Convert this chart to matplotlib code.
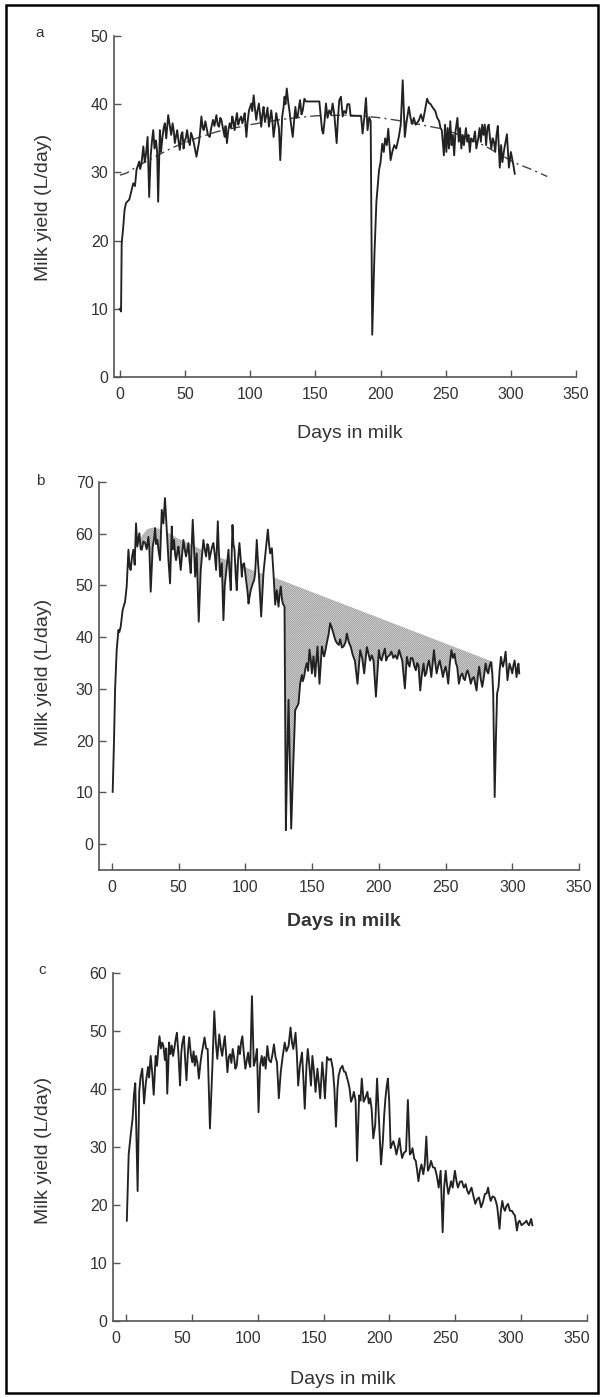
import numpy as np
import matplotlib
matplotlib.use('Agg')
import matplotlib.pyplot as plt
from matplotlib.patches import Rectangle
import matplotlib.transforms as mtrans

plt.rcParams['font.family'] = ['Liberation Sans', 'DejaVu Sans']
plt.rcParams['hatch.linewidth'] = 0.55

# ---------------- data ----------------
x_ticks = [0, 50, 100, 150, 200, 250, 300, 350]
a_yticks = [0, 10, 20, 30, 40, 50]
b_yticks = [0, 10, 20, 30, 40, 50, 60, 70]
c_yticks = [0, 10, 20, 30, 40, 50, 60]

# panel a: daily milk yield (day, L/day)
a_points = [
    (0, 10.0), (0.8, 9.6), (1.3, 19.6), (2.5, 22.0), (3.5, 24.5), (4.6, 25.5), (6, 25.8), (7.1, 26.0),
    (8.9, 27.4), (10.2, 28.4), (11.5, 28.0), (12.7, 30.4), (14.8, 31.6), (15.5, 30.5), (16.5, 31.3),
    (17.9, 33.8), (19, 31.5), (19.9, 32.6), (21.2, 35.2), (22.4, 26.4), (23.5, 32.3), (24.5, 34.5),
    (25.5, 36.2), (26.5, 33.5), (27.6, 34.7), (28.5, 33.0), (29.3, 25.7), (30.6, 36.2), (31.5, 33.0),
    (32.6, 35.2), (33.5, 36.5), (34.4, 37.2), (35.5, 35.0), (37, 38.4), (38.3, 36.7), (39.3, 35.5),
    (40.4, 37.2), (41.3, 36.0), (42.1, 34.3), (43.9, 36.2), (45, 34.5), (45.9, 33.3), (47, 35.5),
    (47.9, 35.9), (48.8, 33.5), (49.7, 34.7), (50.5, 35.0), (51.5, 36.2), (52.5, 34.8), (53.6, 34.0),
    (54.5, 35.8), (55.6, 35.2), (57, 34.0), (58.7, 32.3), (60.7, 34.5), (61.5, 36.0), (62.5, 38.2),
    (63.5, 36.5), (64.3, 36.2), (65.5, 37.5), (66.3, 36.7), (67.5, 35.5), (68.9, 35.2), (70, 36.5),
    (71.4, 37.7), (72.5, 36.8), (74, 38.4), (75, 37.0), (76, 36.7), (77, 38.0), (77.8, 37.7),
    (79, 36.5), (80.3, 35.2), (81, 36.8), (82.1, 34.3), (83, 36.0), (84.2, 37.2), (85.3, 36.5),
    (86.2, 38.2), (87, 37.5), (88, 36.2), (89, 37.8), (89.8, 38.7), (90.8, 37.0), (91.8, 37.7),
    (93, 38.2), (93.9, 37.2), (95, 38.0), (95.7, 38.7), (97, 35.2), (98, 37.5), (99, 39.1),
    (100.8, 40.1), (101.5, 39.0), (102.6, 41.3), (103.5, 39.5), (104.6, 37.7), (105.5, 39.0),
    (106.6, 40.1), (107.5, 38.5), (108.4, 36.7), (109.3, 38.5), (110.2, 39.6), (111.2, 37.5),
    (112.2, 38.2), (113.2, 39.5), (114.3, 36.7), (115.3, 38.0), (116.1, 39.1), (117, 37.5),
    (117.9, 35.2), (119, 37.0), (119.9, 38.7), (121, 37.5), (122, 36.5), (123, 31.8), (124.5, 38.2),
    (125.5, 39.5), (126.3, 41.1), (127, 40.0), (128, 42.3), (129, 40.5), (130, 39.1), (131.3, 37.0),
    (132.6, 35.2), (133.6, 37.5), (134.6, 39.6), (135.5, 38.0), (136.4, 38.2), (137.3, 39.5),
    (138.2, 40.6), (139.3, 38.5), (140.3, 39.1), (141.5, 40.8), (142.8, 40.4), (153, 40.4),
    (155.1, 36.2), (156, 35.7), (157, 37.5), (158.1, 40.1), (159.3, 38.0), (160.6, 39.1), (162, 38.5),
    (163.2, 40.1), (164.5, 38.5), (166.3, 34.3), (167.3, 38.0), (168.3, 40.6), (169.6, 41.1),
    (170.9, 38.2), (172, 39.0), (173.5, 38.7), (174.5, 40.0), (176, 40.0), (177, 38.3), (185, 38.3),
    (186.2, 35.7), (187.5, 38.0), (188.8, 40.9), (190, 36.2), (191.3, 38.1), (192.4, 37.5),
    (193.6, 6.2), (195.3, 18.0), (196.8, 25.7), (198.8, 30.3), (200, 31.5), (201.3, 34.2),
    (202.5, 33.0), (203.5, 35.0), (204.8, 34.0), (205.9, 36.4), (207.7, 31.8), (209, 33.0),
    (210.5, 34.0), (212, 33.5), (214, 35.2), (215.5, 37.0), (217, 43.5), (218.6, 35.2), (220, 37.5),
    (221.7, 39.6), (223, 38.0), (224.2, 37.1), (225.5, 38.0), (227, 37.0), (229.3, 37.6), (231, 38.5),
    (232.5, 37.5), (234, 39.0), (235.7, 40.8), (237, 40.2), (238.5, 40.0), (240, 39.5), (242, 39.0),
    (243.5, 38.0), (245, 37.5), (246, 36.5), (247, 36.2), (248.6, 32.5), (249.5, 37.0), (250.5, 33.0),
    (251.5, 36.5), (252.5, 33.5), (253.5, 37.5), (254.5, 34.0), (255.5, 35.5), (256.5, 32.5),
    (257.5, 36.0), (259, 38.0), (260, 34.5), (261, 36.5), (262, 33.5), (263, 35.5), (264, 34.0),
    (265.5, 36.5), (266.5, 34.5), (267.5, 35.5), (268.5, 33.0), (269.5, 35.0), (271, 34.5),
    (272.5, 36.0), (273.5, 33.5), (275, 35.0), (276, 36.5), (277, 34.5), (278, 37.0), (279, 35.5),
    (280, 37.0), (281, 34.0), (282, 36.5), (283, 37.0), (284, 35.0), (285, 33.5), (286, 35.0),
    (287, 34.5), (288, 33.0), (289, 35.5), (290, 36.8), (291.5, 30.7), (292.5, 34.0), (293.5, 31.5),
    (295, 33.5), (297, 35.6), (298.5, 30.7), (300, 33.0), (301, 32.0), (302, 31.0), (303, 29.8),
]
a_days = [p[0] for p in a_points]
a_yield = [p[1] for p in a_points]

# panel a: fitted lactation curve
a_fit_days = [0, 5, 10, 20, 30, 40, 50, 60, 75, 100, 125, 150, 175, 190, 200, 214, 225, 247, 265, 280, 303, 315, 328]
a_fit_yield = [29.6, 29.9, 30.5, 31.6, 32.6, 33.6, 34.4, 35.1, 36.0, 37.0, 37.8, 38.3, 38.4, 38.2, 38.0,
               37.6, 37.2, 36.4, 35.2, 33.9, 31.4, 30.5, 29.4]

# panel b: daily milk yield
b_points = [
    (0.5, 10.1), (1.5, 20.0), (2.3, 29.8), (3.5, 37.5), (4.8, 41.4), (5.5, 41.0), (6.5, 42.0),
    (8, 45.3), (9.8, 46.9), (11, 49.8), (12.3, 56.9), (13.2, 53.5), (14, 53.0), (15, 55.5),
    (16, 56.9), (17, 54.0), (18, 62.0), (19, 57.5), (20.5, 60.1), (21.5, 57.0), (22.3, 56.9),
    (23.5, 58.5), (24.8, 58.2), (26, 57.0), (27.3, 59.4), (28, 57.0), (29, 48.8), (30.5, 57.5),
    (31.5, 59.0), (32.3, 61.1), (33, 58.0), (34, 58.8), (35, 56.5), (36, 54.9), (37.3, 64.6),
    (38.5, 62.0), (39.7, 66.9), (41, 60.8), (42.3, 54.9), (43.5, 50.4), (44.8, 61.4), (45.5, 57.0),
    (46.5, 58.8), (47.3, 56.0), (48, 54.9), (49, 56.5), (49.8, 57.5), (50.7, 55.0), (51.5, 53.0),
    (52.5, 56.0), (53.5, 58.8), (54.5, 57.0), (55.5, 55.6), (56.5, 57.0), (57.3, 58.2), (58, 55.0),
    (59, 52.4), (60.5, 62.7), (61.5, 57.0), (62.3, 51.7), (63.5, 56.2), (65, 43.0), (66.5, 53.0),
    (67.5, 56.0), (68.5, 58.8), (69.5, 57.0), (70.5, 55.6), (71.5, 58.0), (72.3, 57.5), (73, 55.0),
    (74, 56.2), (75, 57.5), (76, 58.2), (77, 56.0), (78, 53.0), (79.3, 62.4), (80, 57.0), (81, 51.7),
    (82.3, 54.3), (83.5, 43.3), (84.5, 50.0), (85.5, 52.4), (86.5, 55.0), (87.3, 56.9), (88, 53.0),
    (89, 49.1), (90.3, 61.7), (91, 58.0), (91.8, 56.9), (92.7, 52.0), (93.5, 49.1), (94.5, 55.0),
    (95.5, 58.2), (96.5, 55.0), (97.3, 51.7), (98, 54.0), (99, 54.3), (100.5, 51.0), (101.5, 49.0),
    (102.3, 46.5), (103.2, 48.0), (104, 49.1), (105.5, 50.4), (106.5, 51.0), (107.3, 52.4),
    (108.5, 58.8), (109.3, 55.0), (110, 52.4), (111.8, 44.0), (112.6, 48.0), (113.5, 52.4),
    (114.5, 55.0), (115.3, 56.9), (116.8, 60.8), (117.7, 58.0), (118.5, 56.2), (119.8, 57.2),
    (121, 52.4), (122.3, 46.3), (123.5, 49.1), (124.8, 45.9), (125.5, 48.0), (126.5, 49.8),
    (127.3, 47.5), (128, 46.5), (129.3, 45.9), (130.3, 2.7), (131.2, 15.0), (132.3, 27.9),
    (133.3, 15.0), (134.3, 3.0), (135.8, 15.0), (137.3, 25.9), (138.5, 26.5), (139.8, 27.2),
    (141, 31.0), (142.3, 32.7), (143, 31.5), (144, 32.4), (145, 34.0), (146, 35.0), (147, 33.5),
    (148, 37.6), (149, 35.5), (149.8, 33.0), (151, 36.3), (152.3, 32.4), (153, 35.0), (154, 38.2),
    (155.5, 31.0), (156.5, 35.0), (157.3, 38.2), (158.2, 37.0), (159, 36.3), (160, 37.5),
    (161, 38.9), (162.3, 40.5), (163.5, 42.7), (164.5, 42.0), (166, 40.7), (167.3, 39.5),
    (168.5, 38.9), (170, 38.5), (171, 39.6), (172.3, 38.0), (173.5, 38.2), (175, 39.0), (176, 40.7),
    (177.5, 39.0), (179, 38.1), (180.5, 36.5), (182, 35.5), (184, 31.0), (186, 37.5), (187.5, 36.0),
    (189, 33.0), (191, 38.1), (193.4, 35.5), (194.7, 36.5), (196, 35.5), (197.8, 28.5), (200, 37.5),
    (201, 36.0), (202, 35.5), (203, 36.5), (204.5, 37.8), (205.5, 35.5), (206.5, 36.2), (208, 36.5),
    (209.4, 37.2), (210.8, 36.0), (212.3, 36.5), (213.7, 35.8), (215.2, 37.5), (216.3, 36.5),
    (217.5, 35.5), (219.5, 30.1), (221, 36.2), (222, 35.0), (223, 34.3), (224, 36.0), (225.3, 35.9),
    (226.5, 34.5), (227.7, 33.6), (228.7, 35.0), (229.7, 34.6), (231, 29.7), (232.3, 33.0),
    (233.5, 34.9), (234.5, 32.5), (235.5, 33.0), (236.5, 34.5), (237.5, 35.5), (238.5, 34.0),
    (239.3, 32.3), (240.3, 35.0), (241.3, 37.5), (242.3, 35.0), (243.3, 33.0), (244.5, 34.5),
    (245.6, 35.5), (246.8, 34.0), (248, 32.3), (249, 33.5), (250, 34.3), (251, 33.0), (252, 31.0),
    (253.2, 35.0), (254.4, 37.5), (255.5, 36.0), (256.7, 36.8), (257.7, 35.0), (258.7, 34.3),
    (260, 31.0), (261.2, 32.5), (262.5, 33.0), (263.5, 32.0), (264.5, 31.7), (265.5, 33.0),
    (266.5, 33.6), (267.7, 32.5), (268.9, 31.0), (270, 32.0), (271.2, 32.3), (272.2, 31.0),
    (273.2, 29.7), (274.2, 32.5), (275.2, 34.3), (276.3, 32.0), (277.5, 30.4), (278.8, 32.5),
    (280, 34.9), (281, 33.5), (282, 33.0), (283, 34.5), (284, 35.2), (285, 33.0), (285.7, 29.1),
    (286.8, 9.1), (287.7, 20.0), (288.6, 29.1), (289.7, 30.4), (290.5, 33.5), (291.5, 36.2),
    (292.3, 35.0), (293, 34.3), (294, 35.5), (295, 37.2), (296.4, 31.7), (297.9, 34.9), (299, 34.0),
    (300, 33.0), (300.8, 34.5), (301.7, 35.5), (302.5, 34.0), (303.2, 32.3), (304, 34.0),
    (304.6, 34.9), (305.2, 33.0),
]
b_days = [p[0] for p in b_points]
b_yield = [p[1] for p in b_points]

# panel b: expected (unperturbed) curve bounding the hatched loss
b_env_days = [18, 22, 26, 30, 35, 40, 50, 60, 70, 80, 90, 100, 110, 121, 286]
b_env_yield = [57.0, 59.5, 60.8, 61.2, 61.0, 60.5, 59.0, 57.8, 56.6, 55.5, 54.5, 53.5, 52.5, 51.6, 35.2]

# panel c: daily milk yield
c_points = [
    (0.6, 17.3), (2, 28.7), (3.5, 32.0), (5, 35.0), (6, 39.0), (7, 41.0), (8.8, 22.4), (10, 39.5),
    (11, 42.0), (12.3, 43.5), (13.7, 37.5), (15, 41.0), (16.7, 43.8), (17.5, 42.0), (18.7, 45.7),
    (20, 42.5), (21, 39.0), (22.5, 45.7), (23.5, 44.0), (24.5, 47.0), (25.4, 49.1), (26.5, 47.0),
    (27.5, 48.0), (28.4, 47.4), (29.5, 45.0), (30.5, 47.0), (31.3, 39.2), (32.7, 48.0), (33.7, 46.0),
    (34.7, 47.5), (35.7, 45.7), (36.7, 47.0), (37.6, 48.5), (38.6, 49.7), (39.8, 46.0), (41, 40.6),
    (42, 46.5), (42.8, 48.0), (43.9, 49.1), (44.9, 45.0), (45.9, 41.5), (47, 46.5), (48, 48.9),
    (49.2, 46.0), (50.3, 44.6), (51.3, 46.5), (52.2, 44.0), (53.2, 45.7), (54.2, 44.5), (55.3, 41.8),
    (56.5, 44.5), (57.6, 46.3), (58.6, 47.5), (59.6, 48.9), (60.8, 47.0), (62, 46.9), (63.7, 33.2),
    (65.5, 43.5), (67, 53.4), (68.2, 48.0), (69.3, 45.2), (70.8, 49.4), (72, 47.0), (73, 45.7),
    (74, 47.5), (75, 49.1), (76, 46.0), (77, 42.9), (78, 45.5), (79, 46.0), (80, 44.5), (81, 46.9),
    (82, 45.5), (83, 43.5), (84, 44.0), (85.4, 47.4), (86.5, 46.0), (87.3, 48.0), (88.3, 49.1),
    (89.5, 46.0), (90.6, 43.5), (91.7, 45.0), (92.7, 46.3), (93.5, 44.5), (94.3, 43.8), (95.6, 56.0),
    (97, 44.0), (98.2, 45.0), (99.4, 46.9), (100.6, 36.0), (101.8, 44.0), (103, 45.7), (104, 44.0),
    (105, 45.5), (106, 43.5), (107.3, 47.4), (108.6, 45.0), (110, 44.6), (111.2, 46.0), (112.3, 47.7),
    (113.5, 45.5), (114.6, 44.6), (116, 38.4), (117.5, 43.0), (119, 45.7), (120.5, 48.0),
    (121.8, 46.5), (123.4, 47.4), (124.9, 50.6), (126, 48.0), (127, 46.9), (128.7, 49.7),
    (129.7, 46.0), (130.7, 40.6), (132, 44.0), (133.6, 46.3), (134.6, 42.0), (135.7, 36.6),
    (137, 44.0), (138, 46.9), (139.2, 44.0), (140.4, 40.6), (141.5, 45.7), (142.7, 43.0),
    (143.9, 39.5), (145.3, 43.5), (146.4, 41.0), (147.4, 38.4), (149, 44.6), (150, 42.0),
    (151, 38.4), (152.6, 45.5), (154, 45.0), (155.6, 45.2), (157, 43.5), (158.2, 40.0), (159.4, 33.5),
    (160.5, 40.0), (161.4, 42.3), (162.8, 43.5), (164.3, 44.0), (165.5, 43.0), (166.7, 42.9),
    (167.7, 42.0), (168.7, 41.2), (169.8, 40.0), (170.8, 37.8), (172, 38.5), (173, 39.5),
    (174.3, 38.0), (175.4, 27.6), (177, 38.9), (178, 38.0), (179, 41.8), (180.4, 37.8),
    (181.8, 38.5), (183.3, 39.5), (184.3, 37.5), (185.4, 38.4), (186.5, 36.5), (187.7, 31.5),
    (189.2, 33.8), (190.6, 41.8), (192, 35.0), (193.6, 27.0), (195, 31.0), (196, 35.5), (197, 38.5),
    (198, 40.6), (198.8, 41.8), (199.8, 38.0), (200.9, 29.8), (202, 30.5), (203, 31.0), (204.2, 30.0),
    (205.3, 28.7), (206.5, 30.0), (207.6, 31.5), (208.6, 29.5), (209.6, 28.1), (211, 29.0),
    (212.6, 29.3), (214, 38.1), (215.5, 28.7), (216.5, 29.0), (217.5, 29.8), (218.8, 28.0),
    (220, 27.6), (221, 26.0), (222, 24.1), (223.2, 26.0), (224.3, 27.0), (225.7, 25.3), (226.8, 27.0),
    (228, 31.8), (229.2, 25.9), (230.4, 26.5), (231.6, 27.6), (233, 26.5), (234.5, 26.4), (236, 25.0),
    (237.4, 23.0), (238.9, 25.9), (240.4, 15.3), (241.5, 23.0), (242.7, 25.9), (243.7, 23.5),
    (244.7, 21.9), (245.8, 23.0), (246.8, 24.1), (248, 23.0), (249.7, 25.9), (251, 24.0), (252, 23.0),
    (253.5, 24.0), (255, 24.1), (256.5, 23.0), (257.9, 23.6), (259, 22.5), (260.2, 21.9),
    (261.3, 22.5), (262.3, 23.0), (263.8, 21.5), (265.2, 20.2), (266.5, 21.0), (268, 21.3),
    (269.6, 19.6), (271, 20.5), (272.5, 21.9), (273.8, 22.0), (274.9, 23.0), (276, 21.5),
    (276.9, 20.7), (278.3, 21.5), (279.8, 21.3), (281, 20.5), (281.9, 19.6), (283.6, 15.9),
    (284.6, 19.0), (285.7, 20.7), (286.7, 19.5), (287.7, 19.0), (288.8, 19.8), (290, 20.2),
    (291.5, 19.0), (293, 19.0), (294.2, 18.5), (295.3, 18.2), (296.8, 15.6), (297.8, 17.0),
    (298.8, 17.3), (300.3, 16.5), (301.8, 16.8), (303, 17.0), (304, 17.3), (305, 16.8), (306, 16.5),
    (307.6, 17.6), (308.5, 16.5),
]
c_days = [p[0] for p in c_points]
c_yield = [p[1] for p in c_points]

# ---------------- figure ----------------
W, H = 604, 1398
fig = plt.figure(figsize=(W / 100, H / 100), dpi=100)

LINE = '#222222'
AXC = '#555555'
TXT = '#333333'


def add_ax(l, r, t, b):
    return fig.add_axes([l / W, 1 - b / H, (r - l) / W, (b - t) / H])


def style(ax, yticks, xlim, ylim):
    ax.set_xlim(*xlim)
    ax.set_ylim(*ylim)
    ax.set_xticks(x_ticks)
    ax.set_yticks(yticks)
    for s in ['top', 'right']:
        ax.spines[s].set_visible(False)
    for s in ['left', 'bottom']:
        ax.spines[s].set_color(AXC)
        ax.spines[s].set_linewidth(1.2)
    ax.tick_params(direction='in', length=5, width=1.0, color=AXC,
                   labelsize=11.5, labelcolor=TXT)
    ax.tick_params(axis='x', pad=7)
    ax.tick_params(axis='y', pad=4)
    ax.patch.set_alpha(0)


# panel a
axa = add_ax(114, 576, 36, 377)
style(axa, a_yticks, (-4.6, 350), (0, 50))
axa.plot(a_fit_days, a_fit_yield, color='#444444', lw=1.0, dashes=(7, 3, 1.5, 3))
axa.plot(a_days, a_yield, color=LINE, lw=1.35)

# panel b
axb = add_ax(99, 579, 482, 870)
style(axb, b_yticks, (-9.75, 350), (-5, 70))
bd = np.array(b_days)
by = np.array(b_yield)
env = np.interp(bd, b_env_days, b_env_yield)
mask = (bd >= b_env_days[0]) & (bd <= b_env_days[-1]) & (by < env)
axb.fill_between(bd, by, env, where=mask, interpolate=True, facecolor='white',
                 edgecolor='#858585', hatch='/' * 18, linewidth=0, zorder=1)
axb.plot(b_days, b_yield, color=LINE, lw=1.35, zorder=3)

# panel c
axc = add_ax(113, 587, 973, 1321)
style(axc, c_yticks, (-9.9, 350), (0, 60))
axc.plot(c_days, c_yield, color=LINE, lw=1.35)
shift = mtrans.ScaledTranslation(-10 / 100, 0, fig.dpi_scale_trans)
for lbl in axc.get_xticklabels():
    lbl.set_transform(lbl.get_transform() + shift)

# axis labels and panel letters
def ftext(x, y, s, **kw):
    fig.text(x / W, 1 - y / H, s, color=TXT, **kw)

for ycen in (207, 672, 1150):
    ftext(44, ycen, 'Milk yield (L/day)', rotation=90, ha='center', va='center', fontsize=14)
ftext(350, 433, 'Days in milk', ha='center', va='center', fontsize=14)
ftext(344, 922, 'Days in milk', ha='center', va='center', fontsize=14, fontweight='bold')
ftext(343, 1380, 'Days in milk', ha='center', va='center', fontsize=14)
ftext(40, 33, 'a', ha='center', va='center', fontsize=11)
ftext(40, 481, 'b', ha='center', va='center', fontsize=11)
ftext(42, 970, 'c', ha='center', va='center', fontsize=11)

fig.patches.append(Rectangle((6 / W, 1 - 1393 / H), (598 - 6) / W, (1393 - 5) / H,
                             transform=fig.transFigure, fill=False, lw=1.8, ec='black'))

fig.savefig('out.png', dpi=100, facecolor='white')
